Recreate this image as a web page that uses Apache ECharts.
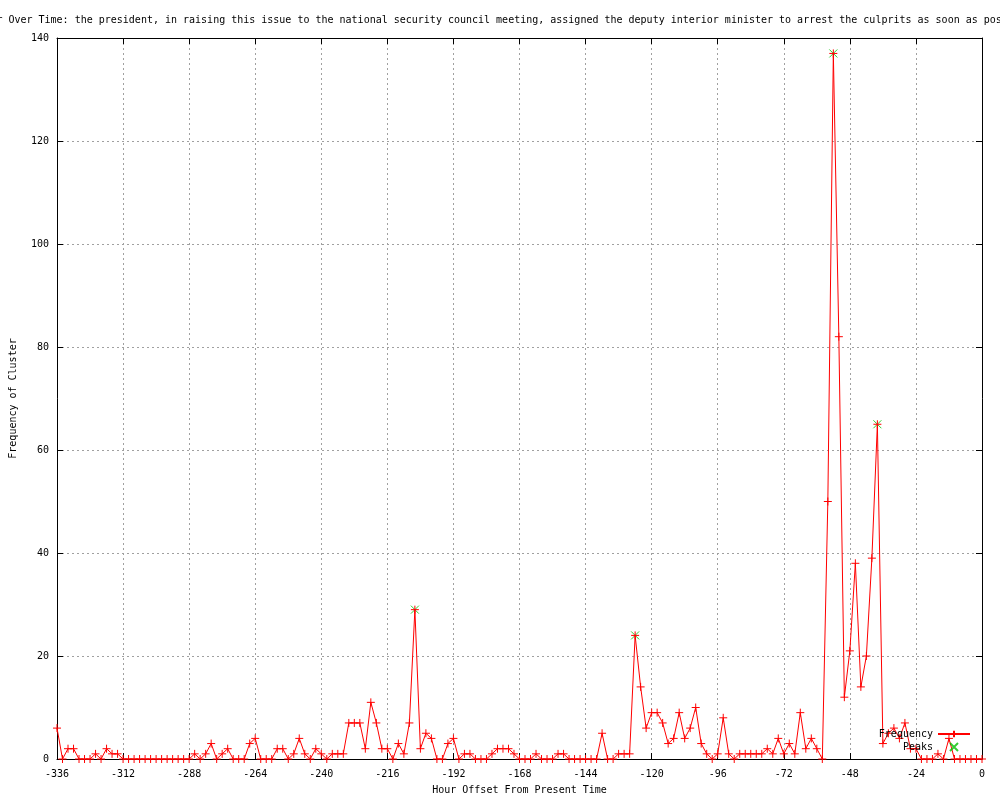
<!DOCTYPE html>
<html>
<head>
<meta charset="utf-8">
<script src="https://cdn.jsdelivr.net/npm/echarts@6/dist/echarts.min.js"></script>
<style>
  html, body { margin: 0; padding: 0; background: #fff; }
  #chart { width: 1000px; height: 800px; }
</style>
</head>
<body>
<div id="chart"></div>
<script>
// hourly buckets, 2h apart, from -336 to 0
const startHour = -336;
const stepHours = 2;
const frequency = [
  6, 0, 2, 2, 0, 0, 0, 1, 0, 2, 1, 1,
  0, 0, 0, 0, 0, 0, 0, 0, 0, 0, 0, 0,
  0, 1, 0, 1, 3, 0, 1, 2, 0, 0, 0, 3,
  4, 0, 0, 0, 2, 2, 0, 1, 4, 1, 0, 2,
  1, 0, 1, 1, 1, 7, 7, 7, 2, 11, 7, 2,
  2, 0, 3, 1, 7, 29, 2, 5, 4, 0, 0, 3,
  4, 0, 1, 1, 0, 0, 0, 1, 2, 2, 2, 1,
  0, 0, 0, 1, 0, 0, 0, 1, 1, 0, 0, 0,
  0, 0, 0, 5, 0, 0, 1, 1, 1, 24, 14, 6,
  9, 9, 7, 3, 4, 9, 4, 6, 10, 3, 1, 0,
  1, 8, 1, 0, 1, 1, 1, 1, 1, 2, 1, 4,
  1, 3, 1, 9, 2, 4, 2, 0, 50, 137, 82, 12,
  21, 38, 14, 20, 39, 65, 3, 5, 6, 4, 7, 2,
  2, 0, 0, 0, 1, 0, 4, 0, 0, 0, 0, 0,
  0
];
const peakHours = [-206, -126, -54, -38];
const peakValues = [29, 24, 137, 65];

const titleText = 'Frequency of Cluster Over Time: the president, in raising this issue to the national security council meeting, assigned the deputy interior minister to arrest the culprits as soon as possible';

const freqData = frequency.map((v, i) => [startHour + i * stepHours, v]);
const peakData = peakHours.map((h, i) => [h, peakValues[i]]);

const font = 'DejaVu Sans Mono';
const plus = 'path://M0 5H10M5 0V10';
const cross = 'path://M0 0L10 10M10 0L0 10';

// mirrored axis (top / right) with inward ticks only, gnuplot style
function mirror(extra) {
  return Object.assign({
    type: 'value',
    axisLine: { show: true, onZero: false, lineStyle: { color: '#000', width: 1 } },
    axisTick: { show: true, inside: true, length: 6, lineStyle: { color: '#000' } },
    axisLabel: { show: false },
    splitLine: { show: false }
  }, extra);
}

const myChart = echarts.init(document.getElementById('chart'));
const option = {
  animation: false,
  backgroundColor: '#fff',
  textStyle: { fontFamily: font, fontSize: 10, color: '#000' },
  title: {
    text: titleText,
    left: -123,
    top: 10,
    textStyle: { fontFamily: font, fontSize: 10, fontWeight: 'normal', color: '#000' }
  },
  legend: {
    orient: 'vertical',
    right: 24,
    top: 724,
    align: 'right',
    itemWidth: 32,
    itemHeight: 8,
    itemGap: 3,
    textStyle: { fontFamily: font, fontSize: 10, color: '#000' },
    data: ['Frequency', 'Peaks']
  },
  grid: { left: 55, right: 18, top: 38, bottom: 40, containLabel: false },
  xAxis: [{
    type: 'value',
    min: -336,
    max: 0,
    interval: 24,
    name: 'Hour Offset From Present Time',
    nameLocation: 'middle',
    nameGap: 26,
    nameTextStyle: { fontFamily: font, fontSize: 10, color: '#000' },
    axisLine: { show: true, onZero: false, lineStyle: { color: '#000', width: 1 } },
    axisTick: { show: true, inside: true, length: 6, lineStyle: { color: '#000' } },
    axisLabel: { fontFamily: font, fontSize: 10, color: '#000', margin: 10 },
    splitLine: { show: true, lineStyle: { color: '#a0a0a0', type: [2, 3] } }
  }, mirror({ position: 'top', min: -336, max: 0, interval: 24 })],
  yAxis: [{
    type: 'value',
    min: 0,
    max: 140,
    interval: 20,
    name: 'Frequency of Cluster',
    nameLocation: 'middle',
    nameGap: 39,
    nameTextStyle: { fontFamily: font, fontSize: 10, color: '#000' },
    axisLine: { show: true, onZero: false, lineStyle: { color: '#000', width: 1 } },
    axisTick: { show: true, inside: true, length: 6, lineStyle: { color: '#000' } },
    axisLabel: { fontFamily: font, fontSize: 10, color: '#000', margin: 8 },
    splitLine: { show: true, lineStyle: { color: '#a0a0a0', type: [2, 3] } }
  }, mirror({ position: 'right', min: 0, max: 140, interval: 20 })],
  series: [{
    name: 'Peaks',
    type: 'scatter',
    data: peakData,
    symbol: cross,
    symbolSize: 8,
    itemStyle: { color: '#00c000', borderColor: '#00c000', borderWidth: 1 },
    z: 2
  }, {
    name: 'Frequency',
    type: 'line',
    data: freqData,
    clip: false,
    symbol: plus,
    symbolSize: 8,
    showAllSymbol: true,
    lineStyle: { color: '#ff0000', width: 1 },
    itemStyle: { color: '#ff0000', borderColor: '#ff0000', borderWidth: 1 },
    z: 3
  }]
};
myChart.setOption(option);
</script>
</body>
</html>
